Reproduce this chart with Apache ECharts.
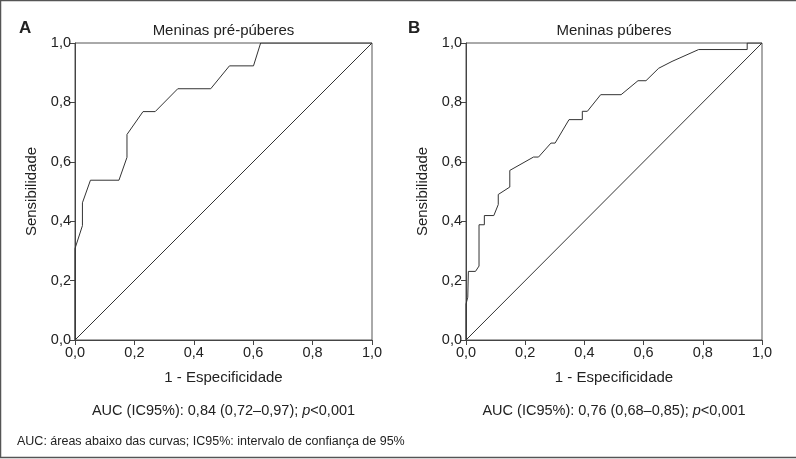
<!DOCTYPE html>
<html>
<head>
<meta charset="utf-8">
<script src="https://cdn.jsdelivr.net/npm/echarts@6/dist/echarts.min.js"></script>
<style>
html,body{margin:0;padding:0;background:#fff;}
#chart{width:796px;height:459px;}
</style>
</head>
<body>
<div id="chart"></div>
<script>
// ---- data ----
const tickValues = [0, 0.2, 0.4, 0.6, 0.8, 1.0];
const panelTitles = ['Meninas pré-púberes', 'Meninas púberes'];
const panelLetters = ['A', 'B'];
const aucTexts = ['AUC (IC95%): 0,84 (0,72–0,97); ', 'AUC (IC95%): 0,76 (0,68–0,85); '];
const footnote = 'AUC: áreas abaixo das curvas; IC95%: intervalo de confiança de 95%';

const fprA = [0, 0, 0.025, 0.025, 0.052, 0.148, 0.175, 0.175, 0.229, 0.270, 0.346, 0.457, 0.520, 0.601, 0.625, 1.0];
const tprA = [0, 0.308, 0.385, 0.462, 0.538, 0.538, 0.615, 0.692, 0.769, 0.769, 0.846, 0.846, 0.923, 0.923, 1.0, 1.0];

const fprB = [0, 0, 0.006, 0.008, 0.032, 0.044, 0.044, 0.062, 0.062, 0.094, 0.109, 0.109, 0.148, 0.148, 0.228, 0.245, 0.287, 0.301, 0.348, 0.393, 0.393, 0.410, 0.455, 0.524, 0.581, 0.608, 0.651, 0.696, 0.786, 0.950, 0.950, 1.0];
const tprB = [0, 0.121, 0.144, 0.231, 0.231, 0.249, 0.388, 0.388, 0.419, 0.419, 0.456, 0.490, 0.515, 0.571, 0.616, 0.616, 0.663, 0.663, 0.742, 0.742, 0.770, 0.770, 0.826, 0.826, 0.873, 0.873, 0.915, 0.938, 0.978, 0.978, 1.0, 1.0];

const diagX = [0, 1];
const diagY = [0, 1];

// ---- chart ----
const FONT = '"Liberation Sans", Arial, sans-serif';
const zip = (xs, ys) => xs.map((x, i) => [x, ys[i]]);
const fmt = v => v.toFixed(1).replace('.', ',');

const grids = [
  {left: 75, top: 43, width: 297, height: 297},
  {left: 466, top: 43, width: 296, height: 297}
];

function xAx(i) {
  return {
    gridIndex: i, type: 'value', min: 0, max: 1, interval: 0.2,
    name: '1 - Especificidade', nameLocation: 'middle', nameGap: 30,
    nameTextStyle: {fontFamily: FONT, fontSize: 15, color: '#222'},
    axisLine: {show: true, onZero: false, lineStyle: {color: '#444', width: 1}},
    axisTick: {show: true, length: 5, lineStyle: {color: '#444'}},
    axisLabel: {formatter: fmt, fontFamily: FONT, fontSize: 14.5, color: '#222', margin: 5},
    splitLine: {show: false}
  };
}
function yAx(i) {
  return {
    gridIndex: i, type: 'value', min: 0, max: 1, interval: 0.2,
    name: 'Sensibilidade', nameLocation: 'middle', nameGap: 36,
    nameTextStyle: {fontFamily: FONT, fontSize: 15, color: '#222'},
    axisLine: {show: true, onZero: false, lineStyle: {color: '#444', width: 1}},
    axisTick: {show: true, length: 5, lineStyle: {color: '#444'}},
    axisLabel: {formatter: fmt, fontFamily: FONT, fontSize: 14.5, color: '#222', margin: 4},
    splitLine: {show: false}
  };
}

const titles = [];
for (let i = 0; i < 2; i++) {
  const cx = grids[i].left + grids[i].width / 2;
  titles.push({text: panelTitles[i], left: cx, top: 23, textAlign: 'center', padding: 0,
    textStyle: {fontFamily: FONT, fontSize: 15, fontWeight: 'normal', color: '#222'}});
  titles.push({text: '{n|' + aucTexts[i] + '}{i|p}{n|<0,001}', left: cx, top: 403, textAlign: 'center', padding: 0,
    textStyle: {fontWeight: 'normal', rich: {
      n: {fontFamily: FONT, fontSize: 14.5, fontWeight: 'normal', color: '#222'},
      i: {fontFamily: FONT, fontSize: 14.5, fontWeight: 'normal', fontStyle: 'italic', color: '#222'}
    }}});
}
titles.push({text: panelLetters[0], left: 19, top: 20, padding: 0,
  textStyle: {fontFamily: FONT, fontSize: 17, fontWeight: 'bold', color: '#222'}});
titles.push({text: panelLetters[1], left: 408, top: 20, padding: 0,
  textStyle: {fontFamily: FONT, fontSize: 17, fontWeight: 'bold', color: '#222'}});
titles.push({text: footnote, left: 17, top: 435, padding: 0,
  textStyle: {fontFamily: FONT, fontSize: 12.5, fontWeight: 'normal', color: '#222'}});

const lineStyle = {color: '#333', width: 1};
const chart = echarts.init(document.getElementById('chart'), null, {renderer: 'canvas'});
chart.setOption({
  animation: false,
  backgroundColor: '#fff',
  title: titles,
  grid: grids.map(g => Object.assign({show: true, borderColor: '#555', borderWidth: 1, backgroundColor: 'transparent'}, g)),
  xAxis: [xAx(0), xAx(1)],
  yAxis: [yAx(0), yAx(1)],
  series: [
    {type: 'line', xAxisIndex: 0, yAxisIndex: 0, data: zip(diagX, diagY), symbol: 'none', lineStyle: lineStyle},
    {type: 'line', xAxisIndex: 0, yAxisIndex: 0, data: zip(fprA, tprA), symbol: 'none', lineStyle: lineStyle},
    {type: 'line', xAxisIndex: 1, yAxisIndex: 1, data: zip(diagX, diagY), symbol: 'none', lineStyle: lineStyle},
    {type: 'line', xAxisIndex: 1, yAxisIndex: 1, data: zip(fprB, tprB), symbol: 'none', lineStyle: lineStyle}
  ],
  graphic: [{
    type: 'rect', shape: {x: 0.5, y: 0.5, width: 800, height: 457},
    style: {fill: 'none', stroke: '#555', lineWidth: 1.5}, silent: true
  }]
});
</script>
</body>
</html>
